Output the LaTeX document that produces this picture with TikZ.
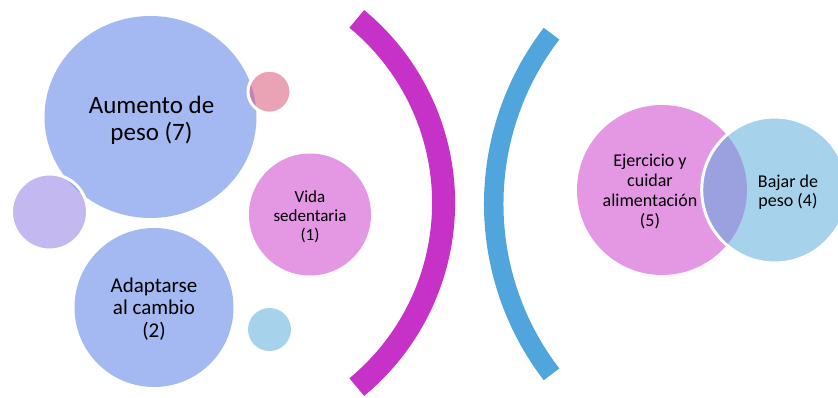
\documentclass[tikz,border=0pt]{standalone}
\usepackage{fontspec}
\setmainfont{Carlito}
\definecolor{peri}{RGB}{164,185,241}
\definecolor{lav}{RGB}{196,184,240}
\definecolor{lavlens}{RGB}{148,152,232}
\definecolor{rose}{RGB}{233,163,181}
\definecolor{roselens}{RGB}{190,132,186}
\definecolor{orchid}{RGB}{228,151,226}
\definecolor{sky}{RGB}{167,210,236}
\definecolor{skylens}{RGB}{155,160,222}
\definecolor{magarc}{RGB}{198,49,199}
\definecolor{bluearc}{RGB}{80,166,220}
\tikzset{
  ring/.style={draw=white, line width=3pt},
  label/.style={align=center, inner sep=0pt, text=black},
}
\begin{document}
\begin{tikzpicture}[x=1pt,y=-1pt]
\useasboundingbox (0,0) rectangle (838,398);
\clip (0,0) rectangle (838,398);

% large bubble with two satellites overlapping its rim
\fill[peri] (150.5,117) ellipse [x radius=106, y radius=101];
\fill[lav] (49.5,212) circle (38);
\begin{scope}
  \clip (150.5,117) ellipse [x radius=106, y radius=101];
  \fill[lavlens] (49.5,212) circle (38);
\end{scope}
\draw[ring] (49.5,212) circle (38);

\fill[rose] (269.5,91.7) circle (21.5);
\begin{scope}
  \clip (150.5,117) ellipse [x radius=106, y radius=101];
  \fill[roselens] (269.5,91.7) circle (21.5);
\end{scope}
\draw[ring] (269.5,91.7) circle (21.5);

% remaining bubbles
\fill[orchid] (310,214.5) circle (61);
\fill[peri] (154,307.5) circle (79.5);
\fill[sky] (269.5,329.5) circle (21.5);

% brackets
\draw[magarc, line width=23pt] (205,203) ++(-50.5:238.6) arc[start angle=-50.5, end angle=50.5, radius=238.6];
\draw[bluearc, line width=19.5pt] (773.6,204) ++(142.5:279.9) arc[start angle=142.5, end angle=217.5, radius=279.9];

% overlapping pair on the right
\fill[orchid] (662,190) circle (85);
\fill[sky] (774.7,190) circle (73);
\begin{scope}
  \clip (662,190) circle (85);
  \fill[skylens] (774.7,190) circle (73);
\end{scope}
\draw[ring] (774.7,190) circle (73);

% labels
\node[label, font=\fontsize{25}{26.7}\selectfont] (aumento) at (151.5,120.5) {Aumento de\\peso (7)};
\node[label, font=\fontsize{21}{22.5}\selectfont] (adaptarse) at (154,308.7) {Adaptarse\\al cambio\\(2)};
\node[label, font=\fontsize{17}{19.2}\selectfont] (vida) at (310,216.6) {Vida\\sedentaria\\(1)};
\node[label, font=\fontsize{18}{20}\selectfont] (ejercicio) at (650,192) {Ejercicio y\\cuidar\\alimentación\\(5)};
\node[label, font=\fontsize{18}{19.4}\selectfont] (bajar) at (788,192.5) {Bajar de\\peso (4)};
\end{tikzpicture}
\end{document}
